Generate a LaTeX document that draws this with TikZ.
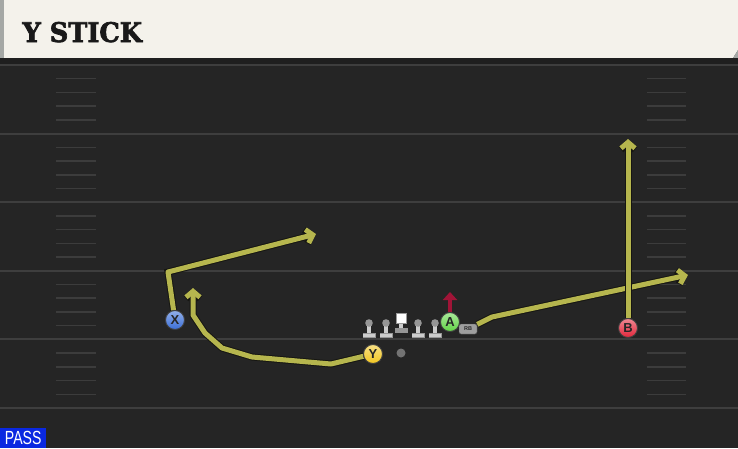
\documentclass[tikz,border=0pt]{standalone}
\usepackage{fontspec}
\setsansfont{Liberation Sans}
\newfontfamily\titlefont[FakeBold=2.5]{DejaVu Serif}
\usetikzlibrary{arrows.meta}
\definecolor{fieldbg}{RGB}{37,37,37}
\definecolor{yardline}{RGB}{62,62,62}
\definecolor{hashline}{RGB}{60,60,60}
\definecolor{headbg}{RGB}{244,242,235}
\definecolor{headedge}{RGB}{165,168,165}
\definecolor{routecol}{RGB}{182,182,78}
\definecolor{routeedge}{RGB}{22,22,18}
\definecolor{xblue}{RGB}{58,110,215}
\definecolor{yyellow}{RGB}{242,198,32}
\definecolor{agreen}{RGB}{98,212,70}
\definecolor{bred}{RGB}{226,38,58}
\definecolor{pushred}{RGB}{160,20,55}
\definecolor{passblue}{RGB}{10,40,225}
\definecolor{mangray}{RGB}{205,205,205}
\definecolor{manhead}{RGB}{150,150,150}
\pgfdeclarelayer{field}
\pgfdeclarelayer{routes}
\pgfsetlayers{field,routes,main}
\newcommand{\drawplayer}[1]{\node[circle, draw=black!75, line width=0.9pt, top color=#1!55!white, bottom color=#1, minimum size=19pt, inner sep=0, font=\sffamily\bfseries\fontsize{13}{13}\selectfont, text=black!85]}
\newcommand{\drawdummy}{\coordinate}
\newcommand{\arrroute}{\draw[line width=5pt, color=routecol, line join=round, -{Straight Barb[length=6pt,width=14pt]}, preaction={draw=routeedge, line width=7pt}]}
\newcommand{\arrpush}{\draw[line width=3.6pt, color=pushred, -{Triangle[length=8pt,width=14pt]}]}
\newcommand{\drawlineman}[2]{%
  \coordinate (#1) at (#2,338);
  \fill[manhead] (#1) ++(-6.5,0) rectangle ++(13,-5);
  \fill[mangray] (#1) ++(-6,-1) rectangle ++(12,-3.5);
  \fill[mangray] (#1) ++(-2,-5) rectangle ++(4,-10);
  \fill[manhead] (#1) ++(0,-15) circle[radius=3.8];
}

\begin{document}
\begin{tikzpicture}[x=1pt, y=-1pt]
\useasboundingbox (0,0) rectangle (738,448);

%field and header
\begin{pgfonlayer}{field}
\fill[fieldbg] (0,0) rectangle (738,448);
\fill[headbg] (4,0) -- (738,0) -- (738,50) -- (733,58) -- (4,58) -- cycle;
\fill[headedge] (0,0) rectangle (4,58);
\fill[headedge] (738,50) -- (738,58) -- (733,58) -- cycle;
\fill[black!88] (0,58) rectangle (738,64);
\foreach \k in {0,...,5}
  \draw[yardline, line width=2pt] (0,{65+68.6*\k}) -- (738,{65+68.6*\k});
\foreach \k in {0,...,4}
  \foreach \j in {1,...,4} {
    \draw[hashline, line width=1.5pt] (56,{65+68.6*\k+13.72*\j}) -- (96,{65+68.6*\k+13.72*\j});
    \draw[hashline, line width=1.5pt] (647,{65+68.6*\k+13.72*\j}) -- (686,{65+68.6*\k+13.72*\j});
  }
\end{pgfonlayer}

\node[anchor=base west, font=\titlefont\bfseries\fontsize{27}{27}\selectfont, text=black!90] (title) at (19,42) {\scalebox{0.95}[1]{Y STICK}};
\node[fill=passblue, anchor=south west, minimum width=46pt, minimum height=20pt, inner sep=0, text=white, font=\sffamily\fontsize{19}{19}\selectfont] (passtag) at (0,448) {\scalebox{0.74}[1]{PASS}};

%line
\drawlineman{lt}{369}
\drawlineman{lg}{386}
\drawlineman{rg}{418}
\drawlineman{rt}{435}
\coordinate (c) at (401,333);
\fill[manhead] (c) ++(-6.5,0) rectangle ++(13,-5);
\fill[mangray] (c) ++(-2,-5) rectangle ++(4,-5);
\fill[white, draw=black!40] (c) ++(-5,-10) rectangle ++(10,-10);
\node[circle, fill=black!55, minimum size=9pt, inner sep=0] (ball) at (401,353) {};

%players
\drawplayer{xblue} (X) at (175,320) {X};
\drawplayer{yyellow} (Y) at (373,354) {Y};
\drawplayer{agreen} (A) at (450,322) {A};
\drawplayer{bred} (B) at (628,328) {B};
\node[draw=black!70, fill=black!38, rounded corners=2pt, minimum width=18pt, minimum height=10pt, inner sep=0, font=\sffamily\bfseries\fontsize{5.5}{5.5}\selectfont, text=black!85] (rb) at (468,329) {RB};

\drawdummy (xbreak) at (168,272);
\drawdummy (xend) at (316,234);
\drawdummy (ypt1) at (331,364);
\drawdummy (ypt2) at (252,357);
\drawdummy (ypt3) at (222,348);
\drawdummy (ypt4) at (205,333);
\drawdummy (ypt5) at (193,315);
\drawdummy (yend) at (193,288);
\drawdummy (abreak) at (492,317);
\drawdummy (aend) at (688,275);
\drawdummy (bend) at (628,139);
\drawdummy (apush) at (450,292);

%routes
\begin{pgfonlayer}{routes}
\arrroute (X) -- (xbreak) -- (xend);
\arrroute (Y) -- (ypt1) -- (ypt2) -- (ypt3) -- (ypt4) -- (ypt5) -- (yend);
\arrroute (rb) -- (abreak) -- (aend);
\arrroute (B) -- (bend);
\arrpush (A) -- (apush);
\end{pgfonlayer}
\end{tikzpicture}
\end{document}
